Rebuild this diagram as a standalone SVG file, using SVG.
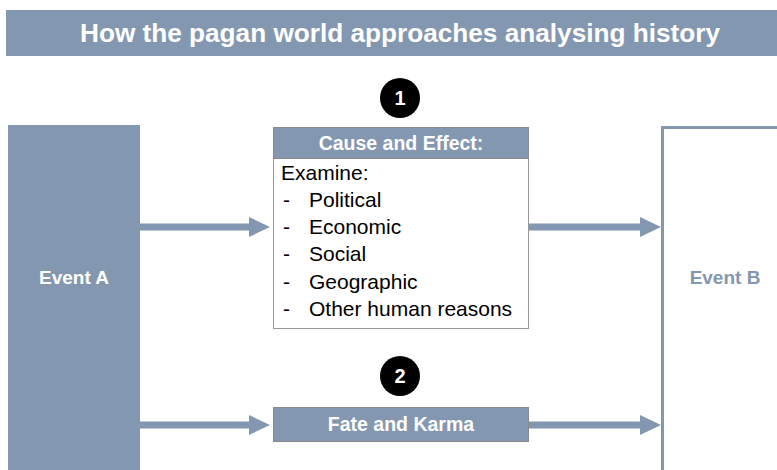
<svg xmlns="http://www.w3.org/2000/svg" width="777" height="470" viewBox="0 0 777 470">
<style>
  .fill { fill: #8497B0; }
  .wt { fill: #ffffff; font-family: "Liberation Sans", Arial, sans-serif; font-weight: bold; text-anchor: middle; }
  .body { fill: #000000; font-family: "Liberation Sans", Arial, sans-serif; font-size: 21px; }
  .shaft { stroke: #8497B0; stroke-width: 7; fill: none; }
  .head { fill: #8497B0; }
</style>
<rect width="777" height="470" fill="#ffffff"/>
<g id="title">
  <rect x="6" y="10" width="771" height="46" class="fill"/>
  <text x="400" y="42" class="wt" font-size="26" textLength="640" lengthAdjust="spacingAndGlyphs">How the pagan world approaches analysing history</text>
</g>
<g id="eventA">
  <rect x="8" y="125" width="132" height="345" class="fill"/>
  <text x="74" y="284" class="wt" font-size="19">Event A</text>
</g>
<g id="eventB">
  <rect x="662.5" y="127.5" width="130" height="360" fill="none" stroke="#8497B0" stroke-width="3"/>
  <text x="725" y="284" class="wt" font-size="19" style="fill:#8497B0">Event B</text>
</g>
<g id="marker1">
  <circle cx="400" cy="98" r="20" fill="#000000"/>
  <text x="400" y="105" class="wt" font-size="20">1</text>
</g>
<g id="causeEffect">
  <rect x="273.5" y="127.5" width="255" height="201" fill="#ffffff" stroke="#999999" stroke-width="1"/>
  <rect x="273.5" y="127.5" width="255" height="31" class="fill" stroke="#8a8a8a" stroke-width="1"/>
  <text x="401" y="150" class="wt" font-size="19.5">Cause and Effect:</text>
  <text x="281" y="180" class="body">Examine:</text>
  <text class="body">
    <tspan x="283" y="207">-</tspan><tspan x="309" y="207">Political</tspan>
    <tspan x="283" y="234">-</tspan><tspan x="309" y="234">Economic</tspan>
    <tspan x="283" y="261">-</tspan><tspan x="309" y="261">Social</tspan>
    <tspan x="283" y="289">-</tspan><tspan x="309" y="289">Geographic</tspan>
    <tspan x="283" y="316">-</tspan><tspan x="309" y="316">Other human reasons</tspan>
  </text>
</g>
<g id="marker2">
  <circle cx="400" cy="376" r="20" fill="#000000"/>
  <text x="400" y="383" class="wt" font-size="20">2</text>
</g>
<g id="fateKarma">
  <rect x="273.5" y="407.5" width="255" height="34" class="fill" stroke="#8a8a8a" stroke-width="1"/>
  <text x="401" y="431" class="wt" font-size="19.5">Fate and Karma</text>
</g>
<g id="connectors">
  <line x1="140" y1="227" x2="252" y2="227" class="shaft"/>
  <polygon points="249,217 270,227 249,237" class="head"/>
  <line x1="529" y1="227" x2="643" y2="227" class="shaft"/>
  <polygon points="640,217 661,227 640,237" class="head"/>
  <line x1="140" y1="425" x2="252" y2="425" class="shaft"/>
  <polygon points="249,415 270,425 249,435" class="head"/>
  <line x1="529" y1="425" x2="643" y2="425" class="shaft"/>
  <polygon points="640,415 661,425 640,435" class="head"/>
</g>
</svg>
